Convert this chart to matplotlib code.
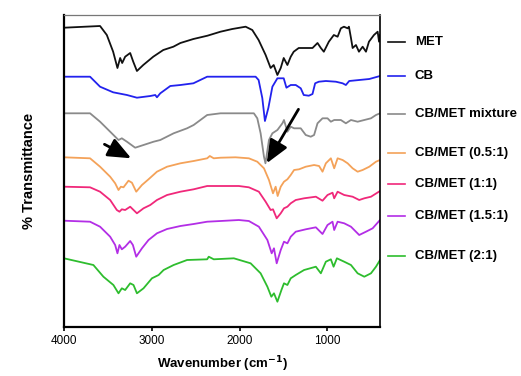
import numpy as np
import matplotlib
matplotlib.use("Agg")
import matplotlib.pyplot as plt

plt.rcParams["font.family"] = ["Liberation Sans", "DejaVu Sans"]

# wavenumber (cm-1) and offset transmittance (a.u.)
met_wn = [4000, 3589, 3512, 3440, 3391, 3360, 3337, 3303, 3246, 3211, 3169, 3097,
          2983, 2869, 2754, 2674, 2526, 2366, 2217, 2083, 1931, 1855, 1783, 1703,
          1646, 1611, 1569, 1531, 1497, 1455, 1417, 1383, 1326, 1246, 1169, 1112,
          1074, 1040, 983, 926, 883, 846, 811, 769, 754, 731, 712, 674, 640, 598,
          560, 526, 469, 427, 411, 400]
met_t = [299.3, 301, 292, 275.3, 259, 269, 264, 270.3, 274, 265.3, 256, 262,
         270.3, 277, 280.3, 284, 288, 291.3, 295.3, 298, 300.3, 297, 287, 272,
         259, 262, 252, 259, 269, 262, 270.3, 275.3, 279, 279, 279, 284,
         279, 275.3, 285.3, 292, 290.3, 298.7, 300.3, 298.7, 300.3, 289, 279, 282, 275.3, 280.3,
         275.3, 285.3, 292, 295.3, 285.3, 292]

cb_wn = [4000, 3703, 3589, 3440, 3283, 3169, 3017, 2960, 2941, 2903, 2789, 2674,
         2526, 2369, 2217, 1817, 1783, 1741, 1711, 1672, 1626, 1569, 1497, 1466,
         1417, 1360, 1303, 1269, 1211, 1169, 1139, 1097, 1017, 903, 826, 789,
         751, 637, 522, 400]
cb_t = [250.3, 250.3, 240.3, 234.7, 232, 229.3, 231, 232, 229.7, 233.7, 241, 242,
        243.7, 250.3, 250.3, 250.3, 247, 229, 206, 219, 240.3, 248.7, 248.7, 239.3,
        242, 242, 238.7, 232, 231.3, 233, 243.7, 245.3, 246, 245.3, 243.7, 242,
        246, 247, 248, 251]

mix_wn = [4000, 3703, 3589, 3474, 3379, 3341, 3283, 3189, 3094, 2979, 2903, 2751,
          2598, 2523, 2369, 2217, 1837, 1798, 1760, 1722, 1705, 1665, 1626, 1569,
          1512, 1494, 1455, 1417, 1379, 1303, 1246, 1189, 1151, 1112, 1055, 998,
          960, 922, 846, 789, 731, 655, 579, 503, 446, 400]
mix_t = [213.7, 213.7, 205.3, 195.3, 187, 188.7, 185.3, 179.3, 182, 185.3, 187, 193.7,
         198.7, 202, 212, 213.7, 213.7, 208.7, 193.7, 170.3, 163.7, 187, 193.7, 197,
         203.7, 207, 195.3, 200.3, 198.7, 198.7, 192, 190.3, 192, 203.7, 208.7, 208.7,
         205.3, 207, 207, 203.7, 207, 205.3, 207, 208.7, 212, 213.7]

r05_wn = [4000, 3703, 3589, 3474, 3417, 3379, 3352, 3322, 3265, 3226, 3177, 3112,
          3037, 2941, 2826, 2674, 2523, 2369, 2339, 2294, 2217, 2046, 1894, 1798,
          1722, 1665, 1619, 1589, 1566, 1531, 1494, 1455, 1417, 1379, 1322, 1246,
          1151, 1094, 1055, 1017, 960, 922, 883, 826, 769, 712, 655, 598, 522, 446, 400]
r05_t = [169.7, 168.7, 160.3, 150.3, 143.7, 137, 140.3, 139.7, 146.3, 144.3, 135.3, 142,
         147.7, 155.3, 160.3, 163.7, 166, 168.7, 171, 168.7, 169.3, 169.7, 168.7, 165.3,
         158.7, 147, 133.7, 140.3, 131, 140.3, 145.3, 147.7, 152, 157, 157.7, 160.3,
         162, 161, 155.3, 163.7, 168.7, 158.7, 168.7, 167, 163.7, 158.7, 155.3, 157, 160.3, 165.3, 167]

r1_wn = [4000, 3703, 3589, 3474, 3398, 3368, 3341, 3303, 3246, 3169, 3094, 3017,
         2941, 2826, 2674, 2523, 2369, 2217, 2008, 1894, 1780, 1703, 1646, 1619,
         1577, 1531, 1494, 1455, 1417, 1360, 1265, 1131, 1055, 998, 941, 922,
         883, 808, 712, 637, 579, 503, 400]
r1_t = [140.3, 139.7, 135.3, 127, 117, 115.3, 117.7, 117, 120.3, 113.7, 118.7, 122,
        127, 132, 135.3, 137.7, 141, 141, 141, 139.7, 135.3, 125.3, 117, 117.7,
        108.7, 113.7, 118.7, 120.3, 123.7, 127, 128.7, 130.3, 126.3, 132, 134.3, 128.7,
        135.3, 132, 130.3, 127, 128.7, 130.3, 136]

r15_wn = [4000, 3703, 3589, 3474, 3417, 3391, 3368, 3341, 3303, 3246, 3215, 3177,
          3112, 3037, 2941, 2826, 2674, 2523, 2369, 2217, 2008, 1894, 1780, 1683,
          1634, 1608, 1577, 1531, 1494, 1455, 1417, 1360, 1246, 1131, 1055, 998,
          941, 922, 883, 808, 731, 637, 560, 484, 400]
r15_t = [106.3, 105.3, 100.3, 90.3, 82, 73.7, 82, 77.7, 80.3, 86, 82, 70.3,
         78.7, 87, 93.7, 98, 101, 103, 105.3, 106, 107, 106, 100.3, 87,
         73.7, 78.7, 63.7, 77, 85.3, 83.7, 90.3, 95.3, 97.7, 99.7, 93, 102,
         105.3, 97, 105.3, 103.7, 100.3, 92, 95.3, 98.7, 107]

r2_wn = [4000, 3665, 3551, 3437, 3379, 3341, 3303, 3246, 3208, 3169, 3094, 2998,
         2922, 2865, 2751, 2598, 2369, 2351, 2294, 2065, 1874, 1760, 1683, 1638,
         1608, 1569, 1523, 1494, 1455, 1417, 1360, 1265, 1131, 1074, 1017, 960,
         929, 891, 808, 731, 655, 579, 503, 446, 400]
r2_t = [68.7, 62, 50.3, 42, 33.7, 38.7, 37, 43.7, 42, 33.7, 38.7, 48.7,
        52, 57, 62, 67, 67.7, 70.3, 67.7, 68.7, 63.7, 53.7, 40.3, 30.3,
        33.7, 25.3, 37, 43.7, 42, 48.7, 52, 57, 60.3, 53.7, 65.3, 67.7,
        60.3, 68.7, 65.3, 62, 53.7, 50.3, 53.7, 60.3, 67]

labels = ["MET", "CB", "CB/MET mixture", "CB/MET (0.5:1)", "CB/MET (1:1)",
          "CB/MET (1.5:1)", "CB/MET (2:1)"]
colors = ["#111111", "#2222ee", "#8a8a8a", "#f4a259", "#f0287a", "#b32ee6", "#2ebd2e"]
series = [(met_wn, met_t), (cb_wn, cb_t), (mix_wn, mix_t), (r05_wn, r05_t),
          (r1_wn, r1_t), (r15_wn, r15_t), (r2_wn, r2_t)]
legend_y = [0.915, 0.806, 0.684, 0.557, 0.459, 0.356, 0.229]

fig = plt.figure(figsize=(5.21, 3.76), dpi=100)
ax = fig.add_axes([0.1228, 0.1303, 0.6066, 0.8298])

for (wn, t), c, lab, ly in zip(series, colors, labels, legend_y):
    ax.plot(wn, t, color=c, lw=1.3, solid_joinstyle="round")
    ax.plot([1.025, 1.079], [ly, ly], color=c, lw=1.2,
            transform=ax.transAxes, clip_on=False)
    ax.text(1.11, ly, lab, transform=ax.transAxes, va="center", ha="left",
            fontsize=9.5, fontweight="bold")

arrow = dict(arrowstyle="-|>,head_length=1.0,head_width=0.42", lw=2.0,
             color="black", mutation_scale=14, shrinkA=0, shrinkB=0)
ax.annotate("", xy=(3234, 168.7), xytext=(3539, 182.7), arrowprops=arrow)
ax.annotate("", xy=(1691, 163.7), xytext=(1329, 217.7), arrowprops=arrow)

ax.set_xlim(4000, 400)
ax.set_ylim(0, 312)
ax.set_xticks([4000, 3000, 2000, 1000])
ax.set_yticks([])
ax.tick_params(axis="x", labelsize=8.5, length=3, width=1.2, pad=3)
ax.set_xlabel("Wavenumber (cm$^{\\mathbf{-1}}$)", fontsize=9.5, fontweight="bold", labelpad=5)
ax.set_ylabel("% Transmittance", fontsize=10.5, fontweight="bold", labelpad=20)

ax.spines["left"].set_linewidth(1.6)
ax.spines["bottom"].set_linewidth(1.6)
ax.spines["right"].set_linewidth(1.2)
ax.spines["top"].set_linewidth(0.9)
ax.spines["top"].set_color("#777777")

fig.savefig("out.png", dpi=100)
